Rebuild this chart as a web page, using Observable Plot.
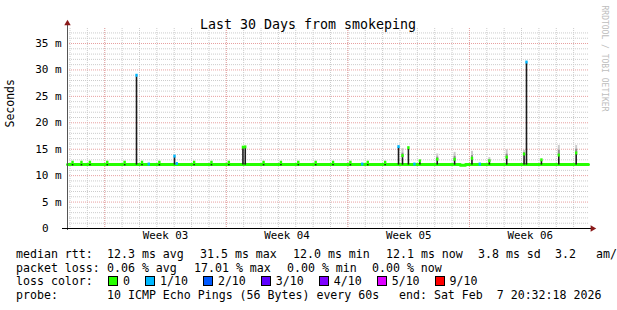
<!DOCTYPE html>
<html>
<head>
<meta charset="utf-8">
<script src="https://cdn.jsdelivr.net/npm/d3@7"></script>
<script src="https://cdn.jsdelivr.net/npm/@observablehq/plot@0.6"></script>
<style>
  html, body { margin: 0; padding: 0; background: #fff; }
  body { width: 617px; height: 310px; overflow: hidden; position: relative; font-family: "DejaVu Sans Mono", monospace; }
  #chart { position: absolute; left: 0; top: 0; }
  #legend { position: absolute; left: 0; top: 248px; width: 617px; font-size: 11.6px; line-height: 13.7px; white-space: pre; color: #000; }
  .row { position: relative; height: 13.7px; }
  .f { position: absolute; top: 0; }
  .box { display: inline-block; width: 8px; height: 8px; border: 1px solid #000; margin-right: 5px; vertical-align: -1px; }
  .lbl { margin-right: 15px; }
</style>
</head>
<body>
<div id="chart"></div>
<div id="legend"></div>
<script>
// ---- data ----
const titleText = "Last 30 Days from smokeping";
const yAxisLabel = "Seconds";
const rrdText = "RRDTOOL / TOBI OETIKER";
const startTime = "2026-01-08T20:32:18";
const endTime = "2026-02-07T20:32:18";

const yTicks = [0, 5, 10, 15, 20, 25, 30, 35];
const yTickLabels = ["0", "5", "10", "15", "20", "25", "30", "35"];
const yTickUnits = ["", "m", "m", "m", "m", "m", "m", "m"];

const weekTickTimes = ["2026-01-14T12:00", "2026-01-21T12:00", "2026-01-28T12:00", "2026-02-04T12:00"];
const weekLabels = ["Week 03", "Week 04", "Week 05", "Week 06"];

// baseline median (ms)
const baseTimes = ["2026-01-08T20:32:18", "2026-01-31T11:30", "2026-01-31T18:30", "2026-02-07T20:32:18"];
const baseValues = [12.1, 11.95, 12.1, 12.1];

// events: time, median (ms), loss index, dark smoke lo/hi (ms), grey smoke top (ms)
const eventTimes = [
  "2026-01-09T03:30", "2026-01-09T15:50", "2026-01-10T03:30", "2026-01-11T03:30", "2026-01-12T03:30",
  "2026-01-12T19:55", "2026-01-13T03:30", "2026-01-13T12:50", "2026-01-14T03:30", "2026-01-15T00:25",
  "2026-01-15T03:30", "2026-01-16T03:30", "2026-01-17T03:30", "2026-01-18T03:30", "2026-01-18T23:00",
  "2026-01-19T02:10", "2026-01-20T03:30", "2026-01-21T03:30", "2026-01-22T03:30", "2026-01-23T03:30",
  "2026-01-24T03:30", "2026-01-25T03:30", "2026-01-25T19:50", "2026-01-26T03:30", "2026-01-27T03:30",
  "2026-01-27T22:00", "2026-01-28T03:30", "2026-01-28T11:40", "2026-01-28T20:00", "2026-01-29T03:30",
  "2026-01-30T03:30", "2026-01-31T03:30", "2026-02-01T03:30", "2026-02-01T14:15", "2026-02-02T03:30",
  "2026-02-03T03:30", "2026-02-04T03:30", "2026-02-04T06:50", "2026-02-05T03:30", "2026-02-06T03:30",
  "2026-02-07T03:30"
];
const eventMedian = [
  12.45, 12.45, 12.45, 12.45, 12.45,
  28.9, 12.45, 12.1, 12.45, 13.6,
  12.2, 12.45, 12.45, 12.45, 15.3,
  15.35, 12.45, 12.45, 12.45, 12.45,
  12.45, 12.45, 12.1, 12.45, 12.45,
  15.4, 13.7, 15.2, 12.1, 12.7,
  13.0, 13.0, 13.2, 12.1, 12.7,
  13.4, 14.0, 31.4, 12.9, 13.8,
  14.2
];
const eventLoss = [
  0, 0, 0, 0, 0,
  1, 0, 1, 0, 1,
  1, 0, 0, 0, 0,
  0, 0, 0, 0, 0,
  0, 0, 1, 0, 0,
  1, 0, 0, 1, 0,
  0, 0, 0, 1, 0,
  0, 0, 1, 0, 0,
  0
];
const eventDarkLo = [
  11.85, 11.85, 11.85, 11.85, 11.85,
  12.0, 11.85, null, 11.85, 12.0,
  null, 11.85, 11.85, 11.85, 12.0,
  12.0, 11.85, 11.85, 11.85, 11.85,
  11.85, 11.85, null, 11.85, 11.85,
  12.0, 12.0, 12.0, null, 12.0,
  12.0, 12.0, 12.0, null, 12.0,
  12.0, 12.0, 12.0, 12.0, 12.0,
  12.0
];
const eventDarkHi = [
  12.1, 12.1, 12.1, 12.1, 12.1,
  28.7, 12.1, null, 12.1, 13.5,
  null, 12.1, 12.1, 12.1, 15.3,
  15.2, 12.1, 12.1, 12.1, 12.1,
  12.1, 12.1, null, 12.1, 12.1,
  15.3, 13.4, 15.0, null, 12.6,
  12.9, 12.9, 13.0, null, 12.6,
  13.2, 13.9, 31.3, 12.8, 13.9,
  14.3
];
const eventGreyHi = [
  null, null, null, null, null,
  null, null, null, null, null,
  null, null, null, null, null,
  null, null, null, null, null,
  null, null, null, null, null,
  null, 15.1, null, null, null,
  14.1, 14.4, 14.6, null, 13.4,
  14.9, 14.8, null, null, 15.7,
  15.7
];

const lossLabels = ["0", "1/10", "2/10", "3/10", "4/10", "5/10", "9/10"];
const lossColors = ["#26ff00", "#00b8ff", "#0059ff", "#5e00ff", "#7e00ff", "#dd00ff", "#ff0000"];

const rttFields = ["median rtt:", "12.3 ms avg", "31.5 ms max", "12.0 ms min", "12.1 ms now", "3.8 ms sd", "3.2", "am/"];
const lossFields = ["packet loss:", "0.06 % avg", "17.01 % max", "0.00 % min", "0.00 % now"];
const lossTitle = "loss color:";
const probeFields = ["probe:", "10 ICMP Echo Pings (56 Bytes) every 60s", "end: Sat Feb  7 20:32:18 2026"];

// ---- build ----
const parse = s => new Date(s);
const t0 = parse(startTime), t1 = parse(endTime);
const yMax = 37.84;

const base = baseTimes.map((t, i) => ({t: parse(t), v: baseValues[i]}));
const events = eventTimes.map((t, i) => ({
  t: parse(t), med: eventMedian[i], loss: eventLoss[i],
  dlo: eventDarkLo[i], dhi: eventDarkHi[i], ghi: eventGreyHi[i]
}));
const smokeGrey = events.filter(d => d.ghi != null);
const smokeDark = events.filter(d => d.dlo != null);

const yMinor = d3.range(1, 38).filter(v => v % 5 !== 0);
const yMajor = yTicks.filter(v => v > 0);
const dayLines = d3.timeDay.range(d3.timeDay.ceil(t0), t1);
const weekLines = d3.timeWeek.range(d3.timeWeek.ceil(t0), t1);
const yTickData = yTicks.map((v, i) => ({v, label: yTickLabels[i], unit: yTickUnits[i]}));
const weekData = weekTickTimes.map((t, i) => ({t: parse(t), label: weekLabels[i]}));

const minorColor = "#cccccc", majorColor = "#e8a0a0", arrowColor = "#8b1a1a";

const chart = Plot.plot({
  width: 617, height: 245,
  marginTop: 28, marginRight: 29, marginBottom: 17, marginLeft: 67,
  x: {type: "time", domain: [t0, t1], axis: null},
  y: {domain: [0, yMax], axis: null},
  style: {fontFamily: "DejaVu Sans Mono", background: "#fff", overflow: "visible", color: "#000"},
  marks: [
    Plot.ruleY(yMinor, {stroke: minorColor, strokeDasharray: "1,1"}),
    Plot.ruleX(dayLines, {stroke: minorColor, strokeDasharray: "1,1"}),
    Plot.ruleY(yMajor, {stroke: majorColor, strokeDasharray: "1,1"}),
    Plot.ruleX(weekLines, {stroke: majorColor, strokeDasharray: "1,1"}),
    Plot.lineY(base, {x: "t", y: "v", stroke: lossColors[0], strokeWidth: 3, curve: "step-after"}),
    Plot.ruleX(smokeGrey, {x: "t", y1: "dhi", y2: "ghi", stroke: "#cacaca", strokeWidth: 2}),
    Plot.ruleX(smokeGrey, {x: "t", y1: "dhi", y2: d => (d.dhi + d.ghi) / 2, stroke: "#8f8f8f", strokeWidth: 2}),
    Plot.ruleX(smokeDark, {x: "t", y1: "dlo", y2: "dhi", stroke: "#1c1c1c", strokeWidth: 1.6}),
    Plot.ruleX(events, {x: "t", y1: d => d.med - 0.28, y2: d => d.med + 0.28, stroke: d => lossColors[d.loss], strokeWidth: 2.4}),
    // axes
    Plot.ruleX([t0], {stroke: "#555", insetTop: -6, insetBottom: -2}),
    Plot.ruleY([0], {stroke: "#000", insetLeft: -5, insetRight: -3}),
    Plot.dot([t0], {x: d => d, frameAnchor: "top", dy: -5, symbol: "triangle", r: 2.4, fill: arrowColor, stroke: "none"}),
    Plot.dot([0], {y: d => d, frameAnchor: "right", dx: 4, symbol: "triangle", rotate: 90, r: 2.4, fill: arrowColor, stroke: "none"}),
    Plot.text(yTickData, {y: "v", text: "label", frameAnchor: "left", dx: -19, textAnchor: "end", fontSize: 11, fill: "#000"}),
    Plot.text(yTickData.filter(d => d.unit), {y: "v", text: "unit", frameAnchor: "left", dx: -12.6, textAnchor: "start", fontSize: 11, fill: "#000"}),
    Plot.text(weekData, {x: "t", text: "label", frameAnchor: "bottom", dy: 10, fontSize: 10.8, fill: "#000"}),
    Plot.text([titleText], {text: d => d, frameAnchor: "top", dx: -20, dy: -9, fontSize: 13.3, fill: "#000"}),
    Plot.text([yAxisLabel], {text: d => d, frameAnchor: "left", dx: -57, dy: -1, rotate: -90, fontSize: 11.5, fill: "#000"}),
    Plot.text([rrdText], {text: d => d, frameAnchor: "top-right", dx: 19, dy: -23, rotate: 90, textAnchor: "start", fontSize: 8, fill: "#bdbdbd"})
  ]
});
document.getElementById("chart").appendChild(chart);

// legend / stats (field left positions in px)
const leg = document.getElementById("legend");
function fieldRow(fields, lefts) {
  const row = document.createElement("div"); row.className = "row";
  fields.forEach((s, i) => {
    const f = document.createElement("span"); f.className = "f";
    f.style.left = lefts[i] + "px"; f.textContent = s; row.appendChild(f);
  });
  leg.appendChild(row);
}
fieldRow(rttFields, [16, 107, 200, 293, 386, 478, 555, 596]);
fieldRow(lossFields, [16, 107, 194, 287, 372]);
const lossRow = document.createElement("div"); lossRow.className = "row";
const lt = document.createElement("span"); lt.className = "f"; lt.style.left = "16px"; lt.textContent = lossTitle;
lossRow.appendChild(lt);
const lw = document.createElement("span"); lw.className = "f"; lw.style.left = "108px";
lossLabels.forEach((l, i) => {
  const b = document.createElement("span"); b.className = "box"; b.style.background = lossColors[i];
  const t = document.createElement("span"); t.className = "lbl"; t.textContent = l;
  lw.appendChild(b); lw.appendChild(t);
});
lossRow.appendChild(lw);
leg.appendChild(lossRow);
fieldRow(probeFields, [16, 107, 399]);
</script>
</body>
</html>
